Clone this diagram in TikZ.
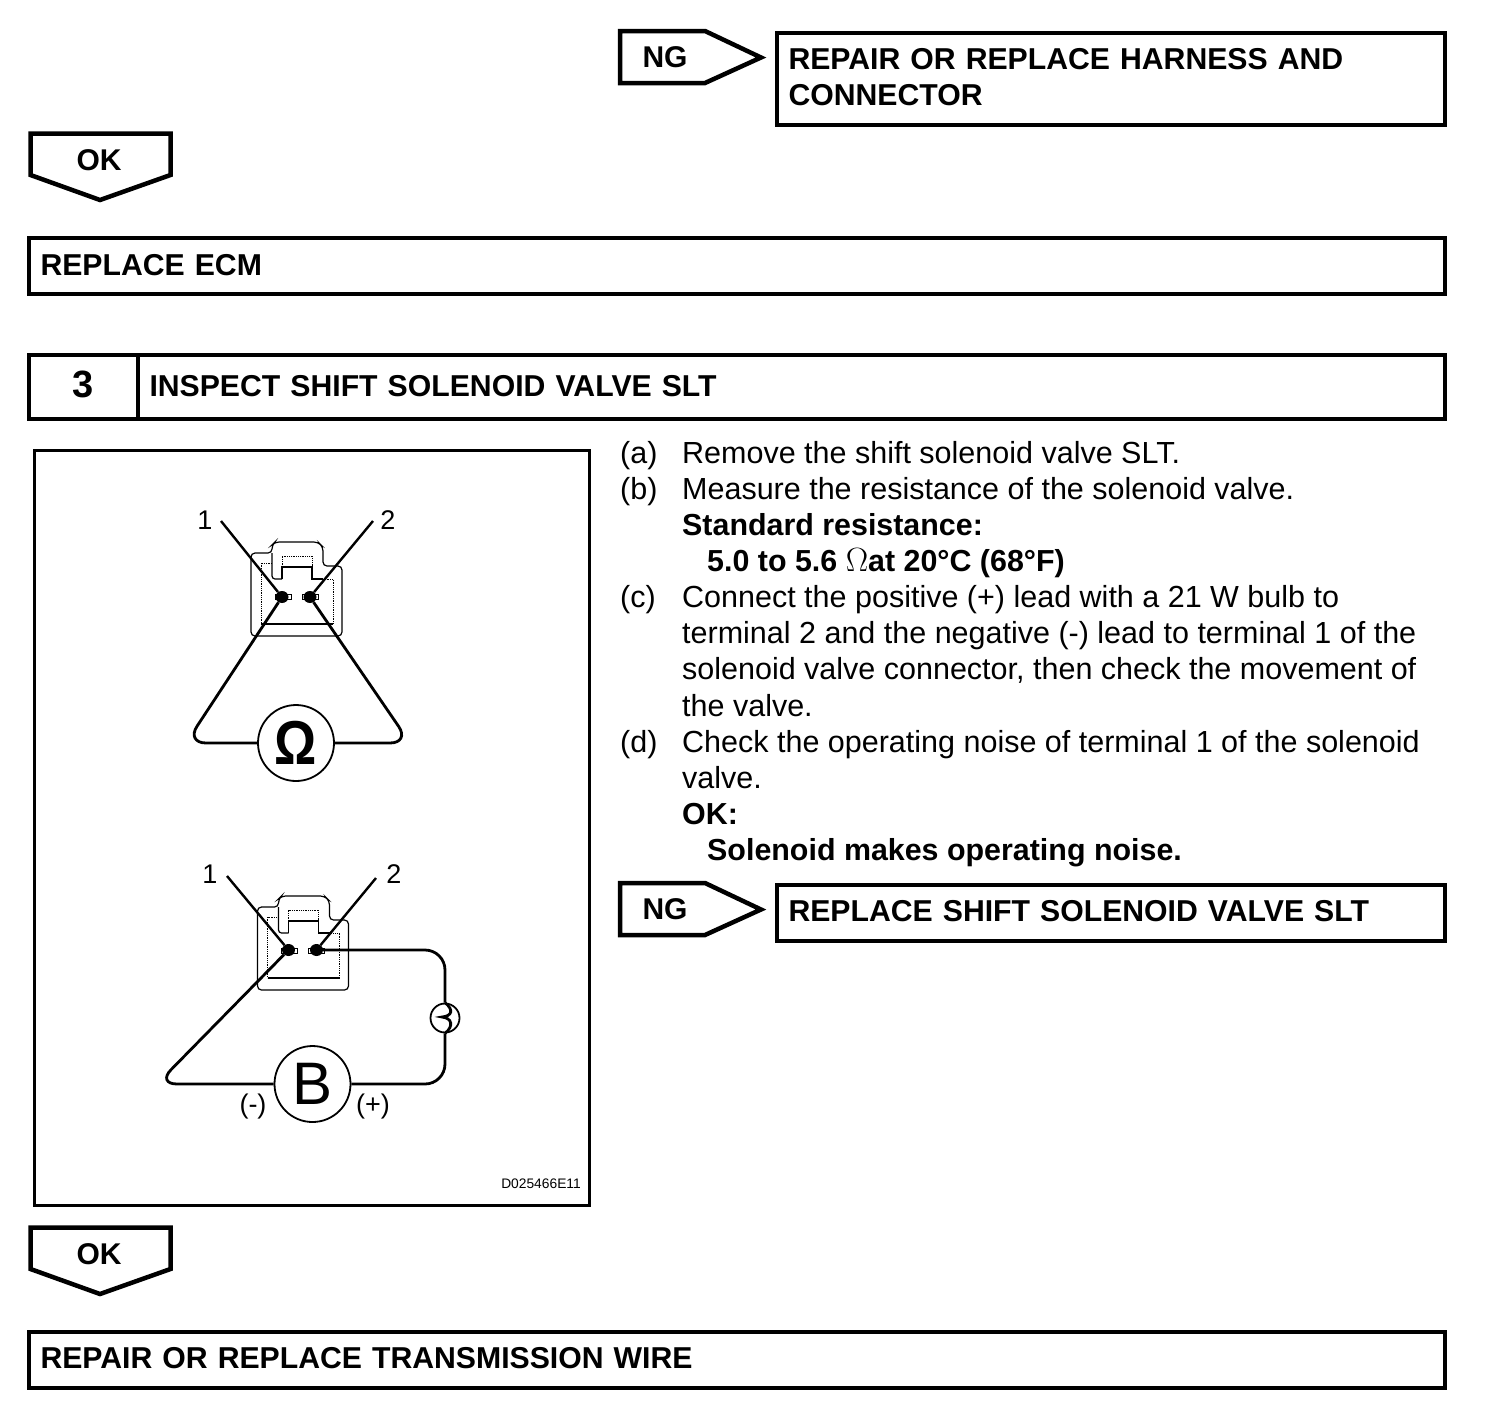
\documentclass[tikz,border=0pt]{standalone}
\usepackage{fontspec}
\setmainfont{Liberation Sans}
\tikzset{
  box/.style={draw, line width=4.5pt, outer sep=0pt, inner xsep=11.5pt, inner ysep=0pt, align=left, font=\fontsize{30.2}{36}\selectfont\bfseries},
  tag/.style={draw, line width=4.5pt, miter limit=10},
  taglabel/.style={font=\fontsize{30}{34}\selectfont\bfseries, inner sep=0pt},
  body/.style={font=\fontsize{30.5}{36}\selectfont, anchor=base west, inner sep=0pt},
  bodyb/.style={body, font=\fontsize{30.4}{36}\selectfont\bfseries},
  figlabel/.style={font=\fontsize{27}{30}\selectfont, inner sep=0pt},
  termdot/.style={ellipse, fill=black, minimum width=13pt, minimum height=12pt, inner sep=0pt},
  meter/.style={circle, draw, fill=white, line width=1.8pt, minimum size=76pt, inner sep=0pt},
  wire/.style={line width=2.8pt, rounded corners=20pt},
  thinl/.style={line width=1.2pt},
  dotl/.style={line width=0.8pt, densely dotted},
}
\usetikzlibrary{shapes.geometric}
\begin{document}
\begin{tikzpicture}[x=1pt, y=-1pt]
  \useasboundingbox (0,0) rectangle (1504,1406);
  % Result boxes
  \node[box, minimum width=668pt, minimum height=92pt, text width=645pt, text height=22pt, text depth=42pt] (harness) at (1111,79) {REPAIR OR REPLACE HARNESS AND\\CONNECTOR};
  \node[box, minimum width=1416pt, minimum height=56pt, text width=1393pt, text height=22pt, text depth=4pt] (ecm) at (737,266) {REPLACE ECM};
  \node[box, minimum width=109pt, minimum height=64pt, inner xsep=0pt, align=center, font=\fontsize{38}{40}\selectfont\bfseries, text height=28pt, text depth=8pt] (num) at (83.5,387) {3};
  \node[box, anchor=west, minimum width=1307pt, minimum height=64pt, text width=1284pt, text height=22pt, text depth=4pt] (inspect) at (num.east) {INSPECT SHIFT SOLENOID VALVE SLT};
  \node[box, minimum width=668pt, minimum height=56pt, text width=645pt, text height=22pt, text depth=6pt] (valve) at (1111,913) {REPLACE SHIFT SOLENOID VALVE SLT};
  \node[box, minimum width=1416pt, minimum height=56pt, text width=1393pt, text height=22pt, text depth=6pt] (wire) at (737,1360) {REPAIR OR REPLACE TRANSMISSION WIRE};
  % NG and OK tags
  \foreach \y in {0,852} {
    \draw[tag] (620,31+\y) -- (705,31+\y) -- (761,57.5+\y) -- (705,83+\y) -- (620,83+\y) -- cycle;
    \node[taglabel] (ng\y) at (665,57+\y) {NG};
  }
  \foreach \y in {0,1094} {
    \draw[tag] (30.5,133.5+\y) -- (170.5,133.5+\y) -- (170.5,175+\y) -- (100,200+\y) -- (30.5,175+\y) -- cycle;
    \node[taglabel] (ok\y) at (99,160+\y) {OK};
  }
  % Figure frame
  \draw[line width=3pt] (34,450) rectangle (589,1205);
  \node[font=\fontsize{13.8}{16}\selectfont, inner sep=0pt, anchor=east] (code) at (581,1184) {D025466E11};
  % Connector housings
  \foreach \ox/\oy in {0/0, 6.5/354} {
    \begin{scope}[shift={(\ox,\oy)}]
      \draw[thinl, rounded corners=4pt] (251,636) -- (251,553) -- (272,553) -- (272,545) -- (275,542) -- (318,542) -- (323,547) -- (323,566) -- (342,566) -- (342,636) -- cycle;
      \draw[thinl, rounded corners=3pt] (272,553) -- (272,579) -- (282,579);
      \draw[thinl] (282,579) -- (282,567) -- (312,567) -- (312,579) -- (323,579);
      \draw[dotl] (282,567) -- (282,556) -- (312,556) -- (312,567);
      \draw[dotl] (272,563) -- (261,563) -- (261,624) (323,579) -- (333,579) -- (333,624);
      \draw[thinl] (261,624) -- (333,624);
      \draw[line width=0.8pt] (275,594) rectangle (291,599) (302,594) rectangle (318,599);
    \end{scope}
  }
  % Resistance check
  \node[termdot] (a1) at (282,597) {};
  \node[termdot] (a2) at (310,597) {};
  \node[figlabel] (lbla1) at (205,520) {1};
  \node[figlabel] (lbla2) at (388,520) {2};
  \coordinate (enda1) at (221,521);
  \coordinate (enda2) at (373,521);
  \coordinate (cornl) at (186,743);
  \coordinate (cornr) at (410,743);
  \draw[line width=2.4pt] (enda1) -- (a1);
  \draw[line width=2.4pt] (enda2) -- (a2);
  \node[meter, font=\fontsize{62}{62}\selectfont\bfseries] (ohm) at (296,743) {\scalebox{.85}[1]{Ω}};
  \draw[wire] (a1) -- (cornl) -- (ohm.west);
  \draw[wire] (a2) -- (cornr) -- (ohm.east);
  % Bulb check
  \node[termdot] (b1) at (288.5,950) {};
  \node[termdot] (b2) at (316.5,950) {};
  \node[figlabel] (lblb1) at (210,874) {1};
  \node[figlabel] (lblb2) at (394,874) {2};
  \coordinate (endb1) at (227,876);
  \coordinate (endb2) at (376,878);
  \coordinate (cornb) at (157,1084);
  \coordinate (corntop) at (445,950);
  \coordinate (cornbot) at (445,1084);
  \draw[line width=2.4pt] (endb1) -- (b1);
  \draw[line width=2.4pt] (endb2) -- (b2);
  \node[meter, font=\fontsize{60}{60}\selectfont] (batt) at (312.5,1084) {B};
  \node[circle, draw, fill=white, line width=1.8pt, minimum size=29pt, inner sep=0pt] (bulb) at (445,1018) {};
  \draw[wire] (b1) -- (cornb) -- (batt.west);
  \draw[wire] (b2) -- (corntop) -- (bulb.north);
  \draw[wire] (batt.east) -- (cornbot) -- (bulb.south);
  \draw[line width=2.8pt] (bulb.north) .. controls (454,1010) and (452,1016) .. (442,1017) .. controls (452,1018) and (454,1026) .. (bulb.south);
  \node[figlabel] (minus) at (253,1106) {(-)};
  \node[figlabel] (plus) at (373,1106) {(+)};
  % Procedure text
  \node[body] (a) at (620,463) {(a)};
  \node[body] (atxt) at (682,463) {Remove the shift solenoid valve SLT.};
  \node[body] (b) at (620,499) {(b)};
  \node[body] (btxt) at (682,499) {Measure the resistance of the solenoid valve.};
  \node[bodyb] (std) at (682,535) {Standard resistance:};
  \node[bodyb] (stdval) at (707,571) {5.0 to 5.6 {\mdseries\scalebox{1.35}{$\Omega$}}at 20°C (68°F)};
  \node[body] (c) at (620,607) {(c)};
  \node[body] (ctxta) at (682,607) {Connect the positive (+) lead with a 21 W bulb to};
  \node[body] (ctxtb) at (682,643) {terminal 2 and the negative (-) lead to terminal 1 of the};
  \node[body] (ctxtc) at (682,679) {solenoid valve connector, then check the movement of};
  \node[body] (ctxtd) at (682,716) {the valve.};
  \node[body] (d) at (620,752) {(d)};
  \node[body] (dtxta) at (682,752) {Check the operating noise of terminal 1 of the solenoid};
  \node[body] (dtxtb) at (682,788) {valve.};
  \node[bodyb] (okhead) at (682,824) {OK:};
  \node[bodyb] (oktxt) at (707,860) {Solenoid makes operating noise.};
\end{tikzpicture}
\end{document}
